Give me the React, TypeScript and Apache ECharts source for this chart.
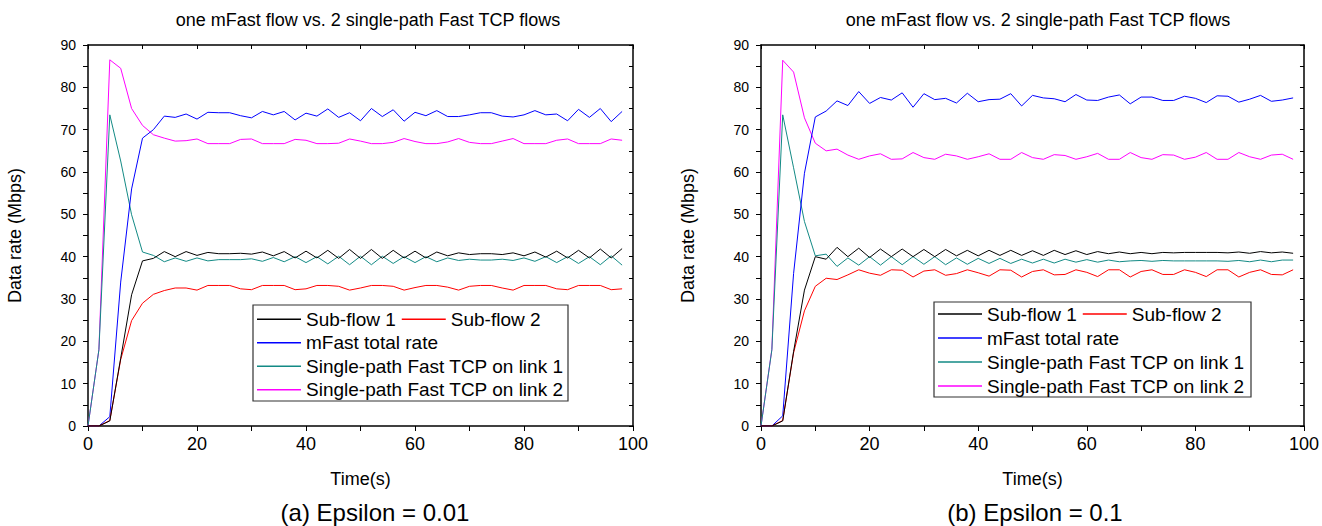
import React, { useEffect, useRef } from "react";
import * as echarts from "echarts";

// ---------- data (time in s, rate in Mbps) ----------
const TIME = [0, 2, 4, 6, 8, 10, 12, 14, 16, 18, 20, 22, 24, 26, 28, 30, 32, 34, 36, 38, 40, 42, 44, 46, 48, 50, 52, 54, 56, 58, 60, 62, 64, 66, 68, 70, 72, 74, 76, 78, 80, 82, 84, 86, 88, 90, 92, 94, 96, 98];

const X_TICKS = [0, 20, 40, 60, 80, 100];
const Y_TICKS = [0, 10, 20, 30, 40, 50, 60, 70, 80, 90];

const SERIES_NAMES = ["Sub-flow 1", "Sub-flow 2", "mFast total rate", "Single-path Fast TCP on link 1", "Single-path Fast TCP on link 2"];
const SERIES_COLORS = ["#000000", "#ff0000", "#0000ff", "#138a85", "#ff00ff"];

// (a) Epsilon = 0.01
const SUB1_A = [0, 0, 1.2, 16, 31, 39, 39.6, 41.2, 40, 41.2, 40.3, 41, 40.7, 40.7, 40.8, 40.6, 41.1, 40.2, 41.2, 39.7, 41.3, 39.7, 41.5, 39.6, 41.7, 39.6, 41.7, 39.6, 41.5, 39.7, 41.3, 39.7, 41.1, 40.2, 40.9, 40.5, 40.7, 40.7, 40.5, 40.9, 40.2, 41.1, 39.9, 41.3, 39.7, 41.5, 39.7, 41.8, 39.7, 41.9];
const SUB2_A = [0, 0, 1.3, 15.7, 24.9, 29, 31.1, 32, 32.6, 32.6, 32.1, 33.2, 33.2, 33.2, 32.4, 32.2, 33.2, 33.2, 33.2, 32.2, 32.4, 33.2, 33.2, 33, 32.1, 32.6, 33.2, 33.2, 33, 32.1, 32.7, 33.2, 33.2, 32.8, 32.1, 33, 33.2, 33.2, 32.6, 32.1, 33.2, 33.2, 33.2, 32.4, 32.2, 33.2, 33.2, 33.2, 32.2, 32.4];
const TOTAL_A = [0, 0, 2.2, 34, 56, 68, 70, 73.2, 72.9, 73.7, 72.5, 74.1, 74, 74, 73.3, 72.8, 74.3, 73.5, 74.3, 72.3, 73.9, 73.2, 74.9, 72.9, 74, 72.1, 75, 73.1, 74.7, 72, 74.1, 73.3, 74.5, 73.1, 73.1, 73.5, 74, 74, 73.2, 73, 73.5, 74.5, 73.5, 73.7, 72.1, 74.8, 72.9, 75, 71.9, 74.3];
const LINK1_A = [0, 18, 73.5, 62.6, 49.9, 41.1, 40.3, 38.8, 39.7, 38.9, 39.7, 39, 39.3, 39.3, 39.3, 39.5, 38.9, 39.8, 38.8, 40, 38.6, 40, 38.3, 40.1, 38.1, 40.1, 38.1, 40.1, 38.4, 40, 38.6, 40, 38.8, 39.7, 39.1, 39.4, 39.2, 39.2, 39.4, 39.1, 39.7, 38.9, 40, 38.6, 40, 38.4, 40, 38.1, 40.2, 38];
const LINK2_A = [0, 18, 86.5, 84.5, 75, 71, 68.8, 68, 67.3, 67.4, 67.8, 66.7, 66.7, 66.7, 67.7, 67.8, 66.7, 66.7, 66.7, 67.7, 67.5, 66.7, 66.7, 66.8, 67.8, 67.3, 66.7, 66.7, 67, 67.9, 67.2, 66.7, 66.7, 67.1, 67.9, 67, 66.7, 66.7, 67.3, 67.9, 66.7, 66.7, 66.7, 67.5, 67.8, 66.7, 66.7, 66.7, 67.8, 67.5];

// (b) Epsilon = 0.1
const SUB1_B = [0, 0, 1.2, 17.6, 32.1, 40, 39.4, 42.2, 40, 42, 39.8, 41.8, 40, 41.8, 40, 41.7, 40, 41.7, 40.2, 41.5, 40.2, 41.5, 40.3, 41.5, 40.3, 41.4, 40.3, 41.5, 40.5, 41.4, 40.5, 41.2, 40.7, 41.1, 40.7, 41, 40.7, 41, 40.9, 41, 41, 41, 41, 40.9, 41.1, 40.8, 41.2, 40.9, 41.1, 40.8];
const SUB2_B = [0, 0, 1.3, 17.3, 27.2, 33, 34.9, 34.6, 35.7, 36.9, 36.1, 35.6, 36.9, 36.8, 35.2, 36.6, 36.9, 35.6, 36, 36.9, 36.2, 35.4, 36.9, 36.8, 35.2, 36.5, 36.9, 35.7, 35.8, 36.9, 36.3, 35.3, 36.9, 36.9, 35.2, 36.5, 36.9, 35.8, 35.8, 36.9, 36.3, 35.3, 36.9, 36.9, 35.2, 36.3, 36.9, 35.8, 35.7, 36.9];
const TOTAL_B = [0, 0, 2.4, 36, 59.7, 73, 74.4, 76.8, 75.7, 79, 76.2, 77.6, 77, 78.7, 75.3, 78.5, 77.1, 77.4, 76.3, 78.6, 76.6, 77.1, 77.2, 78.5, 75.6, 78.1, 77.5, 77.3, 76.6, 78.3, 77, 76.9, 77.7, 78.2, 76.1, 77.7, 77.7, 76.9, 76.9, 77.9, 77.4, 76.4, 78, 77.9, 76.5, 77.2, 78.1, 76.7, 77, 77.5];
const LINK1_B = [0, 18, 73.5, 61, 48.3, 40.2, 40.6, 37.7, 39.7, 38, 40, 38, 40, 38.1, 40, 38.2, 40, 38.1, 39.7, 38.2, 39.6, 38.4, 39.6, 38.4, 39.4, 38.5, 39.4, 38.5, 39.4, 38.7, 39.3, 38.7, 39.2, 38.8, 39, 39.1, 38.9, 39.1, 39, 39, 39, 39, 39, 38.9, 39.1, 38.8, 39.2, 38.8, 39.2, 39.2];
const LINK2_B = [0, 18.1, 86.4, 83.6, 72.8, 66.8, 65, 65.4, 64, 63, 63.8, 64.3, 63, 63.1, 64.6, 63.4, 63, 64.2, 63.8, 63, 63.6, 64.3, 63, 63, 64.6, 63.4, 63, 64.1, 63.9, 63, 63.6, 64.4, 63, 63, 64.6, 63.4, 63, 64.1, 64, 63, 63.5, 64.6, 63, 63, 64.6, 63.6, 63, 64, 64.2, 63];

const TITLE = "one mFast flow vs. 2 single-path Fast TCP flows";
const CAPTIONS = ["(a) Epsilon = 0.01", "(b) Epsilon = 0.1"];
const X_NAME = "Time(s)";
const Y_NAME = "Data rate (Mbps)";

// ---------- layout ----------
const FONT = "'Liberation Sans', Arial, Helvetica, sans-serif";
const PANELS = [
  { left: 88, top: 45, width: 545, height: 381, titleX: 368, capX: 375, box: { x: 253, y: 305, w: 315, h: 96 }, legX: 257, legTop: 307.5, row: 23.5, data: [SUB1_A, SUB2_A, TOTAL_A, LINK1_A, LINK2_A] },
  { left: 761, top: 45, width: 546, height: 381, titleX: 1038, capX: 1035, box: { x: 934, y: 302, w: 317, h: 95 }, legX: 938, legTop: 302, row: 24, data: [SUB1_B, SUB2_B, TOTAL_B, LINK1_B, LINK2_B] },
];

function buildOption() {
  const grid: any[] = [];
  const xAxis: any[] = [];
  const yAxis: any[] = [];
  const series: any[] = [];
  const legend: any[] = [];
  const graphic: any[] = [];

  const xMin = X_TICKS[0];
  const xMax = X_TICKS[X_TICKS.length - 1];
  const xInt = X_TICKS[1] - X_TICKS[0];
  const yMin = Y_TICKS[0];
  const yMax = Y_TICKS[Y_TICKS.length - 1];
  const yInt = Y_TICKS[1] - Y_TICKS[0];

  const axisLine = { show: true, onZero: false, lineStyle: { color: "#000", width: 1.5 } };

  PANELS.forEach((p, g) => {
    grid.push({ left: p.left, top: p.top, width: p.width, height: p.height, containLabel: false });

    xAxis.push({
      type: "value", gridIndex: g, position: "bottom", min: xMin, max: xMax, interval: xInt,
      name: X_NAME, nameLocation: "middle", nameGap: 44,
      nameTextStyle: { fontSize: 18, color: "#000", fontFamily: FONT },
      axisLine,
      axisTick: { show: true, inside: false, length: 5, lineStyle: { color: "#000", width: 1 } },
      minorTick: { show: true, splitNumber: 2, length: 5, lineStyle: { color: "#000", width: 1 } },
      axisLabel: { fontSize: 18, color: "#000", margin: 9, fontFamily: FONT },
      splitLine: { show: false },
    });
    xAxis.push({
      type: "value", gridIndex: g, position: "top", min: xMin, max: xMax, interval: xInt,
      axisLine,
      axisTick: { show: true, inside: true, length: 4, lineStyle: { color: "#000", width: 1 } },
      minorTick: { show: true, splitNumber: 2, length: 4, lineStyle: { color: "#000", width: 1 } },
      axisLabel: { show: false },
      splitLine: { show: false },
    });
    yAxis.push({
      type: "value", gridIndex: g, position: "left", min: yMin, max: yMax, interval: yInt,
      name: Y_NAME, nameLocation: "middle", nameGap: 64,
      nameTextStyle: { fontSize: 18, color: "#000", fontFamily: FONT },
      axisLine,
      axisTick: { show: true, inside: false, length: 5, lineStyle: { color: "#000", width: 1 } },
      minorTick: { show: true, splitNumber: 2, length: 5, lineStyle: { color: "#000", width: 1 } },
      axisLabel: { fontSize: 14, color: "#000", margin: 12, fontFamily: FONT },
      splitLine: { show: false },
    });
    yAxis.push({
      type: "value", gridIndex: g, position: "right", min: yMin, max: yMax, interval: yInt,
      axisLine,
      axisTick: { show: true, inside: true, length: 4, lineStyle: { color: "#000", width: 1 } },
      minorTick: { show: true, splitNumber: 2, length: 4, lineStyle: { color: "#000", width: 1 } },
      axisLabel: { show: false },
      splitLine: { show: false },
    });

    p.data.forEach((vals, i) => {
      series.push({
        type: "line",
        name: SERIES_NAMES[i],
        xAxisIndex: g * 2,
        yAxisIndex: g * 2,
        data: TIME.map((t, k) => [t, vals[k]]),
        showSymbol: false,
        symbol: "none",
        color: SERIES_COLORS[i],
        itemStyle: { color: SERIES_COLORS[i] },
        lineStyle: { color: SERIES_COLORS[i], width: 1 },
        z: 10 - i,
      });
    });

    const legText = { fontSize: 19, color: "#000", fontFamily: FONT, lineHeight: p.row };
    legend.push({
      left: p.legX, top: p.legTop, orient: "horizontal", padding: 0, itemGap: 6,
      itemWidth: 44, itemHeight: 1.5, icon: "rect", selectedMode: false,
      textStyle: legText,
      data: SERIES_NAMES.slice(0, 2),
    });
    legend.push({
      left: p.legX, top: p.legTop + p.row, orient: "vertical", padding: 0, itemGap: 0,
      itemWidth: 44, itemHeight: 1.5, icon: "rect", selectedMode: false,
      textStyle: legText,
      data: SERIES_NAMES.slice(2),
    });

    graphic.push({
      type: "rect", silent: true, z: 1,
      shape: { x: p.box.x, y: p.box.y, width: p.box.w, height: p.box.h },
      style: { fill: "rgba(255,255,255,0)", stroke: "#333", lineWidth: 1.2 },
    });
    graphic.push({
      type: "text", silent: true, x: p.titleX, y: 20,
      style: { text: TITLE, fill: "#000", fontSize: 18, fontFamily: FONT, align: "center", verticalAlign: "middle" },
    });
    graphic.push({
      type: "text", silent: true, x: p.capX, y: 512,
      style: { text: CAPTIONS[g], fill: "#000", fontSize: 24, fontFamily: FONT, align: "center", verticalAlign: "middle" },
    });
  });

  return {
    animation: false,
    backgroundColor: "#ffffff",
    textStyle: { fontFamily: FONT },
    grid, xAxis, yAxis, series, legend, graphic,
  };
}

export default function App() {
  const ref = useRef<HTMLDivElement>(null);
  useEffect(() => {
    if (!ref.current) return;
    const chart = echarts.init(ref.current, undefined, { renderer: "svg" });
    chart.setOption(buildOption() as any);
    return () => chart.dispose();
  }, []);
  return (
    <div
      ref={ref}
      style={{ position: "fixed", left: 0, top: 0, width: 1322, height: 526, background: "#fff" }}
    />
  );
}
